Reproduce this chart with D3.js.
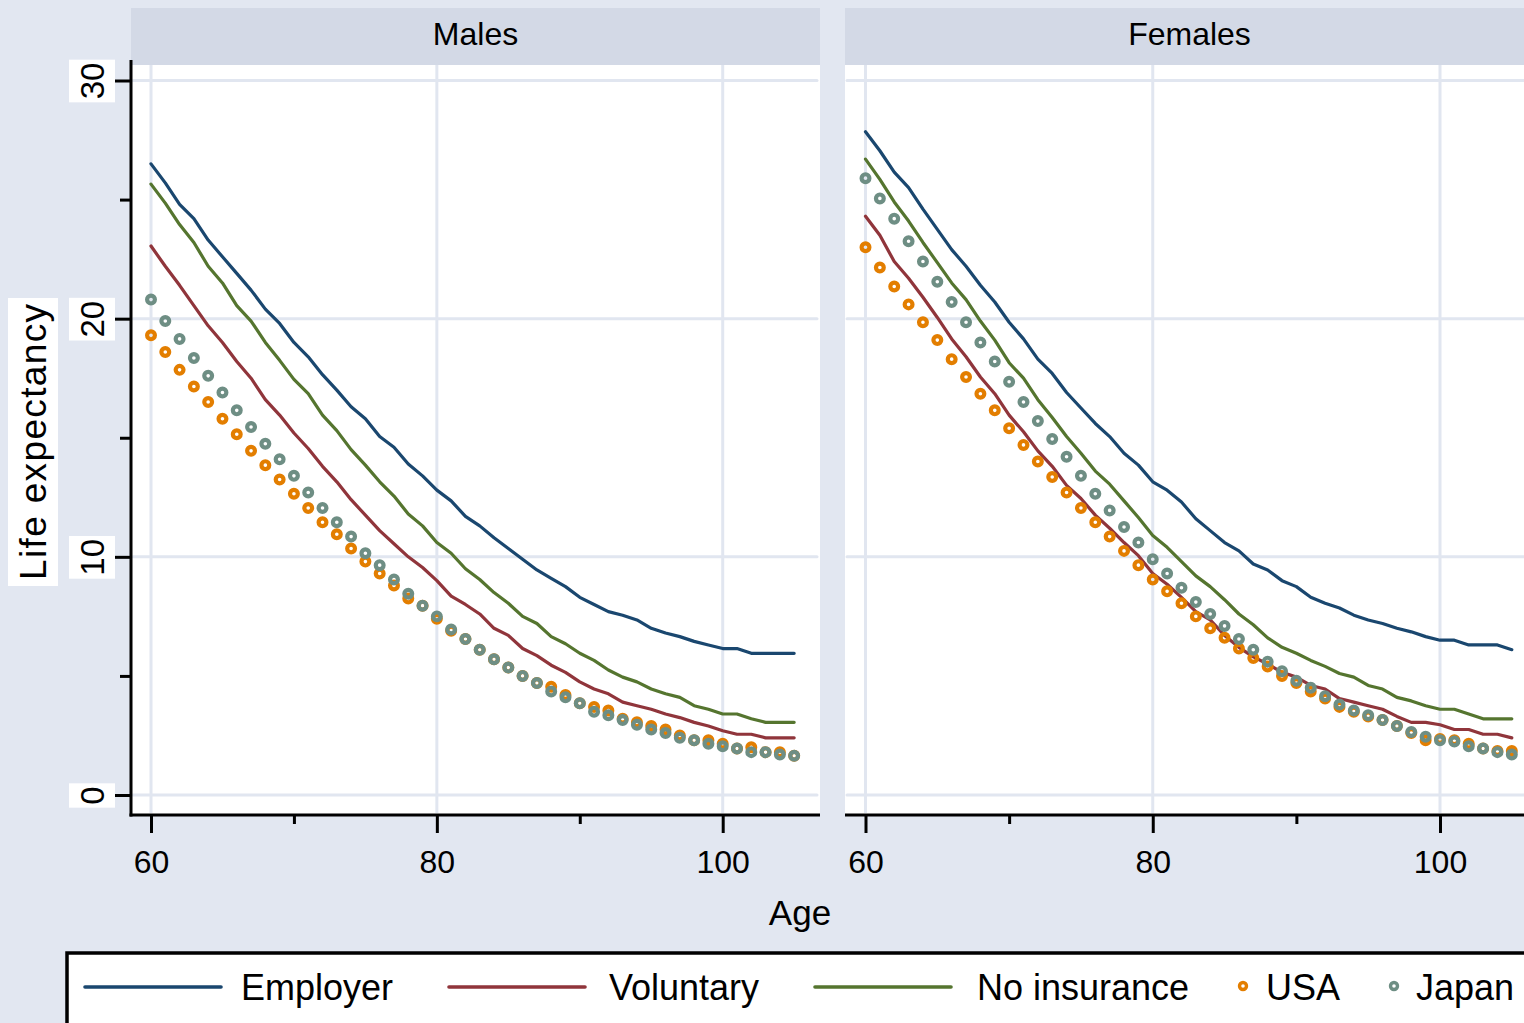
<!DOCTYPE html>
<html>
<head>
<meta charset="utf-8">
<script src="https://cdn.jsdelivr.net/npm/d3@7/dist/d3.min.js"></script>
<style>
  html, body { margin: 0; padding: 0; background: #e2e7f1; }
  svg { display: block; font-family: "Liberation Sans", Arial, Helvetica, sans-serif; }
</style>
</head>
<body>
<svg id="chart" width="1524" height="1023"></svg>
<script>
// Age at which remaining life expectancy is measured
const ages = [60, 61, 62, 63, 64, 65, 66, 67, 68, 69, 70, 71, 72, 73, 74, 75, 76, 77, 78, 79,
              80, 81, 82, 83, 84, 85, 86, 87, 88, 89, 90, 91, 92, 93, 94, 95, 96, 97, 98, 99,
              100, 101, 102, 103, 104, 105];

// Males: remaining life expectancy (years) by insurance group and national life tables
const malesEmployer = [26.5, 25.7, 24.8, 24.2, 23.3, 22.6, 21.9, 21.2, 20.4, 19.8, 19.0, 18.4, 17.65, 17.0, 16.3, 15.8, 15.05, 14.6, 13.9, 13.4,
  12.8, 12.35, 11.7, 11.3, 10.8, 10.35, 9.9, 9.45, 9.1, 8.75, 8.3, 8.0, 7.7, 7.55, 7.35, 7.0, 6.8, 6.65, 6.45, 6.3,
  6.15, 6.15, 5.95, 5.95, 5.95, 5.95];
const malesVoluntary = [23.05, 22.2, 21.4, 20.55, 19.7, 19.0, 18.2, 17.5, 16.6, 15.95, 15.2, 14.55, 13.8, 13.15, 12.4, 11.75, 11.1, 10.55, 10.0, 9.55,
  9.0, 8.35, 8.0, 7.6, 7.0, 6.7, 6.15, 5.85, 5.45, 5.15, 4.75, 4.45, 4.25, 3.9, 3.75, 3.6, 3.4, 3.25, 3.05, 2.9,
  2.7, 2.55, 2.55, 2.4, 2.4, 2.4];
const malesNoInsurance = [25.65, 24.85, 23.95, 23.2, 22.2, 21.5, 20.55, 19.9, 19.0, 18.25, 17.45, 16.85, 15.95, 15.3, 14.5, 13.85, 13.15, 12.55, 11.8, 11.3,
  10.6, 10.15, 9.5, 9.05, 8.5, 8.05, 7.5, 7.2, 6.65, 6.35, 5.95, 5.65, 5.25, 4.95, 4.75, 4.45, 4.25, 4.1, 3.75, 3.6,
  3.4, 3.4, 3.2, 3.05, 3.05, 3.05];
const malesUSA = [19.3, 18.6, 17.85, 17.15, 16.5, 15.8, 15.15, 14.45, 13.85, 13.25, 12.65, 12.05, 11.45, 10.95, 10.35, 9.8, 9.3, 8.8, 8.25, 7.95,
  7.4, 6.9, 6.55, 6.1, 5.7, 5.35, 5.0, 4.7, 4.55, 4.2, 3.85, 3.7, 3.55, 3.2, 3.05, 2.9, 2.75, 2.5, 2.3, 2.3,
  2.15, 1.95, 2.0, 1.8, 1.8, 1.65];
const malesJapan = [20.8, 19.9, 19.15, 18.35, 17.6, 16.9, 16.15, 15.45, 14.75, 14.1, 13.4, 12.7, 12.05, 11.45, 10.85, 10.15, 9.65, 9.05, 8.45, 7.95,
  7.5, 6.95, 6.55, 6.1, 5.7, 5.35, 5.0, 4.7, 4.35, 4.1, 3.85, 3.5, 3.35, 3.15, 2.95, 2.75, 2.6, 2.4, 2.3, 2.15,
  2.05, 1.95, 1.8, 1.8, 1.7, 1.65];

// Females
const femalesEmployer = [27.85, 27.05, 26.15, 25.5, 24.6, 23.75, 22.9, 22.2, 21.4, 20.7, 19.85, 19.15, 18.3, 17.7, 16.9, 16.25, 15.6, 15.05, 14.35, 13.85,
  13.15, 12.8, 12.3, 11.6, 11.1, 10.6, 10.25, 9.7, 9.45, 9.0, 8.75, 8.3, 8.05, 7.85, 7.55, 7.35, 7.2, 7.0, 6.85, 6.65,
  6.5, 6.5, 6.3, 6.3, 6.3, 6.1];
const femalesVoluntary = [24.3, 23.5, 22.4, 21.7, 20.9, 20.05, 19.15, 18.4, 17.55, 16.85, 15.95, 15.25, 14.45, 13.8, 13.0, 12.45, 11.75, 11.2, 10.6, 10.05,
  9.3, 8.85, 8.3, 7.7, 7.35, 6.7, 6.2, 5.8, 5.5, 5.15, 4.95, 4.6, 4.45, 4.05, 3.9, 3.75, 3.6, 3.3, 3.05, 3.05,
  2.95, 2.75, 2.75, 2.55, 2.55, 2.4];
const femalesNoInsurance = [26.7, 25.85, 24.9, 24.1, 23.2, 22.35, 21.5, 20.8, 19.9, 19.1, 18.15, 17.5, 16.6, 15.85, 15.05, 14.35, 13.6, 13.05, 12.35, 11.65,
  10.9, 10.4, 9.8, 9.2, 8.75, 8.2, 7.6, 7.15, 6.6, 6.2, 5.95, 5.65, 5.4, 5.1, 4.95, 4.6, 4.45, 4.1, 3.95, 3.75,
  3.6, 3.6, 3.4, 3.2, 3.2, 3.2];
const femalesUSA = [23.0, 22.15, 21.35, 20.6, 19.85, 19.1, 18.3, 17.55, 16.85, 16.15, 15.4, 14.7, 14.0, 13.35, 12.7, 12.05, 11.45, 10.85, 10.25, 9.65,
  9.05, 8.55, 8.05, 7.5, 7.0, 6.6, 6.15, 5.75, 5.4, 5.0, 4.7, 4.35, 4.05, 3.7, 3.5, 3.3, 3.15, 2.9, 2.6, 2.3,
  2.35, 2.3, 2.15, 1.95, 1.85, 1.85];
const femalesJapan = [25.9, 25.05, 24.2, 23.25, 22.4, 21.55, 20.7, 19.85, 19.0, 18.2, 17.35, 16.5, 15.7, 14.95, 14.2, 13.4, 12.65, 11.95, 11.25, 10.6,
  9.9, 9.3, 8.7, 8.1, 7.6, 7.1, 6.55, 6.1, 5.6, 5.2, 4.8, 4.5, 4.15, 3.8, 3.55, 3.35, 3.15, 2.9, 2.65, 2.45,
  2.3, 2.25, 2.05, 1.95, 1.8, 1.7];

const seriesNames = ["Employer", "Voluntary", "No insurance", "USA", "Japan"];
const seriesColors = ["#1a476f", "#90353b", "#55752f", "#e37e00", "#6e8e84"];
const seriesKinds = ["line", "line", "line", "marker", "marker"];
const panelTitles = ["Males", "Females"];

const yTicksMajor = [0, 10, 20, 30];
const yTicksMinor = [5, 15, 25];
const xTicksMajor = [60, 80, 100];
const xTicksMinor = [70, 90];

const xTitle = "Age";
const yTitle = "Life expectancy";

// ---------- layout ----------
const W = 1524, H = 1023;
const plotTop = 65, plotBottom = 815, stripTop = 8;
const panels = [
  { title: panelTitles[0], x0: 131, x1: 820, x60: 151, x100: 722.7,
    values: [malesEmployer, malesVoluntary, malesNoInsurance, malesUSA, malesJapan] },
  { title: panelTitles[1], x0: 845, x1: 1534, x60: 865.5, x100: 1440,
    values: [femalesEmployer, femalesVoluntary, femalesNoInsurance, femalesUSA, femalesJapan] }
];

const gridColor = "#e1e6f0";
const stripColor = "#d3d9e6";
const bgColor = "#e2e7f1";

const svg = d3.select("#chart");
svg.append("rect").attr("width", W).attr("height", H).attr("fill", bgColor);

const y = d3.scaleLinear().domain([0, 30]).range([795, 80.5]);

panels.forEach((p, pi) => {
  const x = d3.scaleLinear().domain([60, 100]).range([p.x60, p.x100]);
  const g = svg.append("g");

  // plot region
  g.append("rect").attr("x", p.x0).attr("y", plotTop)
    .attr("width", p.x1 - p.x0).attr("height", plotBottom - plotTop).attr("fill", "#fff");

  // panel strip
  g.append("rect").attr("x", p.x0).attr("y", stripTop)
    .attr("width", p.x1 - p.x0).attr("height", plotTop - stripTop).attr("fill", stripColor);
  g.append("text").attr("x", (p.x0 + p.x1) / 2).attr("y", 45)
    .attr("text-anchor", "middle").attr("font-size", 32).attr("fill", "#000").text(p.title);

  // grid
  g.append("g").selectAll("line").data(yTicksMajor).join("line")
    .attr("x1", p.x0 + 2).attr("x2", p.x1 - 3)
    .attr("y1", d => y(d)).attr("y2", d => y(d))
    .attr("stroke", gridColor).attr("stroke-width", 3).attr("stroke-linecap", "round");
  g.append("g").selectAll("line").data(xTicksMajor).join("line")
    .attr("x1", d => x(d)).attr("x2", d => x(d))
    .attr("y1", plotTop).attr("y2", plotBottom - 2)
    .attr("stroke", gridColor).attr("stroke-width", 3);

  // series
  const line = d3.line().x((d, i) => x(ages[i])).y(d => y(d));
  p.values.forEach((vals, si) => {
    if (seriesKinds[si] !== "line") return;
    g.append("path").datum(vals).attr("d", line)
      .attr("fill", "none").attr("stroke", seriesColors[si])
      .attr("stroke-width", 3.2).attr("stroke-linejoin", "round").attr("stroke-linecap", "round");
  });
  p.values.forEach((vals, si) => {
    if (seriesKinds[si] !== "marker") return;
    g.append("g").selectAll("circle").data(vals).join("circle")
      .attr("cx", (d, i) => x(ages[i])).attr("cy", d => y(d)).attr("r", 3.9)
      .attr("fill", "none").attr("stroke", seriesColors[si]).attr("stroke-width", 4.2);
  });

  // x axis
  const xa = g.append("g").attr("transform", `translate(0,${plotBottom})`);
  xa.call(d3.axisBottom(x).tickValues(xTicksMajor).tickSize(18).tickPadding(17).tickSizeOuter(0));
  xa.select(".domain").remove();
  xa.selectAll(".tick line").attr("stroke", "#000").attr("stroke-width", 3);
  xa.selectAll(".tick text").attr("font-size", 32).attr("fill", "#000")
    .attr("font-family", "\"Liberation Sans\", Arial, sans-serif");
  const xm = g.append("g").attr("transform", `translate(0,${plotBottom})`);
  xm.call(d3.axisBottom(x).tickValues(xTicksMinor).tickSize(9).tickFormat("").tickSizeOuter(0));
  xm.select(".domain").remove();
  xm.selectAll(".tick line").attr("stroke", "#000").attr("stroke-width", 3);
  g.append("line").attr("x1", pi === 0 ? p.x0 - 1.5 : p.x0).attr("x2", p.x1)
    .attr("y1", plotBottom).attr("y2", plotBottom)
    .attr("stroke", "#000").attr("stroke-width", 3);

  // y axis on the first panel only
  if (pi === 0) {
    const ya = g.append("g").attr("transform", `translate(${p.x0},0)`);
    ya.call(d3.axisLeft(y).tickValues(yTicksMajor).tickSize(16).tickSizeOuter(0));
    ya.select(".domain").remove();
    ya.selectAll(".tick line").attr("stroke", "#000").attr("stroke-width", 3);
    ya.selectAll(".tick text")
      .attr("font-size", 33).attr("fill", "#000")
      .attr("font-family", "\"Liberation Sans\", Arial, sans-serif")
      .attr("transform", "rotate(-90)")
      .attr("x", 0).attr("y", -39).attr("dy", "0.36em")
      .attr("text-anchor", "middle");
    ya.selectAll(".tick").each(function () {
      const t = d3.select(this).select("text");
      const len = t.node().getComputedTextLength();
      d3.select(this).insert("rect", "text")
        .attr("transform", "rotate(-90)")
        .attr("x", -len / 2 - 3).attr("width", len + 6)
        .attr("y", -62).attr("height", 46).attr("fill", "#fff");
    });
    const ym = g.append("g").attr("transform", `translate(${p.x0},0)`);
    ym.call(d3.axisLeft(y).tickValues(yTicksMinor).tickSize(11).tickFormat("").tickSizeOuter(0));
    ym.select(".domain").remove();
    ym.selectAll(".tick line").attr("stroke", "#000").attr("stroke-width", 3);
    g.append("line").attr("x1", p.x0).attr("x2", p.x0)
      .attr("y1", 60).attr("y2", plotBottom + 1.5)
      .attr("stroke", "#000").attr("stroke-width", 3);
  }
});

// y axis title
const yt = svg.append("g").attr("transform", "translate(33,442) rotate(-90)");
const ytLen = 276;
yt.append("rect").attr("x", -ytLen / 2 - 6).attr("width", ytLen + 12)
  .attr("y", -25).attr("height", 50).attr("fill", "#fff");
yt.append("text").attr("text-anchor", "middle").attr("dy", "0.36em")
  .attr("font-size", 37).attr("fill", "#000")
  .attr("textLength", ytLen).attr("lengthAdjust", "spacing").text(yTitle);

// x axis title
svg.append("text").attr("x", 800).attr("y", 925).attr("text-anchor", "middle")
  .attr("font-size", 35).attr("fill", "#000").text(xTitle);

// legend
const lg = svg.append("g");
lg.append("rect").attr("x", 67).attr("y", 953).attr("width", 1600).attr("height", 200)
  .attr("fill", "#fff").attr("stroke", "#000").attr("stroke-width", 3.5);
const legendKeyX = [85, 449, 815, 1243, 1394];
const legendTextX = [241, 609, 977, 1266, 1416];
const legendY = 987;
seriesNames.forEach((name, i) => {
  if (seriesKinds[i] === "line") {
    lg.append("line").attr("x1", legendKeyX[i]).attr("x2", legendKeyX[i] + 136)
      .attr("y1", legendY).attr("y2", legendY)
      .attr("stroke", seriesColors[i]).attr("stroke-width", 3.6).attr("stroke-linecap", "round");
  } else {
    lg.append("circle").attr("cx", legendKeyX[i]).attr("cy", legendY - 1).attr("r", 3.5)
      .attr("fill", "none").attr("stroke", seriesColors[i]).attr("stroke-width", 3.4);
  }
  lg.append("text").attr("x", legendTextX[i]).attr("y", 1000)
    .attr("font-size", 36).attr("fill", "#000").text(name);
});
</script>
</body>
</html>
